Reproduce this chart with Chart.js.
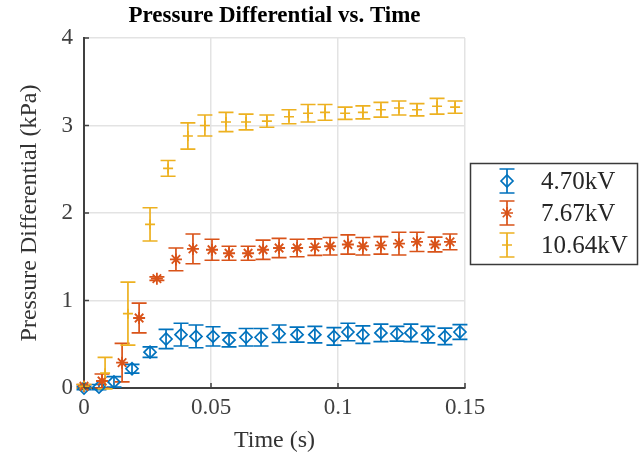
<!DOCTYPE html>
<html lang="en">
<head>
<meta charset="UTF-8">
<title>Pressure Differential vs. Time</title>
<script src="https://cdn.jsdelivr.net/npm/chart.js"></script>
<style>
  body { margin: 0; background: #fff; }
  .wrap { width: 644px; height: 464px; }
</style>
</head>
<body>
<div class="wrap"><canvas id="pressureChart" width="644" height="464"></canvas></div>
<script>
// values
const seriesLabels = ['4.70kV', '7.67kV', '10.64kV'];

const times470 = [0, 0.0059, 0.0118, 0.0189, 0.0260, 0.0323, 0.0382, 0.0441, 0.0508, 0.0571, 0.0638, 0.0697,
  0.0768, 0.0839, 0.0909, 0.0984, 0.1039, 0.1098, 0.1169, 0.1232, 0.1287, 0.1354, 0.1421, 0.1480];
const values470 = [0.0, 0.01, 0.07, 0.22, 0.41, 0.56, 0.61, 0.59, 0.59, 0.55, 0.58, 0.58,
  0.62, 0.61, 0.61, 0.59, 0.64, 0.61, 0.63, 0.62, 0.63, 0.61, 0.59, 0.64];
const errors470 = [0.02, 0.03, 0.06, 0.05, 0.06, 0.11, 0.13, 0.13, 0.11, 0.08, 0.10, 0.10,
  0.10, 0.085, 0.095, 0.10, 0.10, 0.10, 0.10, 0.085, 0.10, 0.095, 0.095, 0.085];

const times767 = [0, 0.0071, 0.0150, 0.0217, 0.0287, 0.0362, 0.0429, 0.0504, 0.0571, 0.0646, 0.0705,
  0.0768, 0.0839, 0.0909, 0.0969, 0.1039, 0.1098, 0.1169, 0.1240, 0.1311, 0.1382, 0.1441];
const values767 = [0.02, 0.08, 0.29, 0.80, 1.25, 1.47, 1.59, 1.58, 1.54, 1.54, 1.58,
  1.60, 1.60, 1.61, 1.62, 1.64, 1.62, 1.63, 1.65, 1.67, 1.64, 1.67];
const errors767 = [0.02, 0.08, 0.22, 0.17, 0.02, 0.13, 0.17, 0.12, 0.08, 0.08, 0.11,
  0.11, 0.10, 0.095, 0.10, 0.11, 0.10, 0.10, 0.13, 0.11, 0.085, 0.09];

const times1064 = [0, 0.0083, 0.0173, 0.0260, 0.0331, 0.0409, 0.0476, 0.0559, 0.0638, 0.0720,
  0.0807, 0.0882, 0.0949, 0.1028, 0.1098, 0.1169, 0.1240, 0.1311, 0.1390, 0.1461];
const values1064 = [0.02, 0.17, 0.85, 1.87, 2.51, 2.88, 3.00, 3.04, 3.04, 3.05,
  3.10, 3.14, 3.15, 3.14, 3.15, 3.18, 3.20, 3.18, 3.22, 3.21];
const errors1064 = [0.02, 0.18, 0.36, 0.19, 0.09, 0.15, 0.12, 0.11, 0.09, 0.07,
  0.08, 0.10, 0.09, 0.07, 0.075, 0.085, 0.08, 0.07, 0.09, 0.07];

const xTicks = [0, 0.05, 0.1, 0.15];
const yTicks = [0, 1, 2, 3, 4];

const chartTitle = 'Pressure Differential vs. Time';
const SERIF = "'Liberation Serif', 'DejaVu Serif', serif";
const AXIS_COLOR = '#404040';

function toPoints(ts, vs, es) {
  return ts.map((t, i) => ({ x: t, y: vs[i], err: es[i] }));
}

// vertical error bars with caps, drawn under the markers
const errorBars = {
  id: 'errorBars',
  beforeDatasetsDraw(chart) {
    const { ctx, scales: { y } } = chart;
    chart.data.datasets.forEach((ds, i) => {
      const meta = chart.getDatasetMeta(i);
      ctx.save();
      ctx.strokeStyle = ds.borderColor;
      ctx.lineWidth = 1.7;
      meta.data.forEach((pt, j) => {
        const d = ds.data[j];
        const top = y.getPixelForValue(d.y + d.err);
        const bot = y.getPixelForValue(d.y - d.err);
        ctx.beginPath();
        ctx.moveTo(pt.x, top); ctx.lineTo(pt.x, bot);
        ctx.moveTo(pt.x - 7.5, top); ctx.lineTo(pt.x + 7.5, top);
        ctx.moveTo(pt.x - 7.5, bot); ctx.lineTo(pt.x + 7.5, bot);
        ctx.stroke();
      });
      ctx.restore();
    });
  }
};

// title over the plot area, inward tick marks, boxed legend on the right
const extras = {
  id: 'extras',
  afterDraw(chart) {
    const { ctx, chartArea: a, scales: { x, y } } = chart;
    ctx.save();
    ctx.fillStyle = '#000';
    ctx.font = 'bold 23px ' + SERIF;
    ctx.textAlign = 'center';
    ctx.textBaseline = 'middle';
    ctx.fillText(chartTitle, (a.left + a.right) / 2, 16);

    ctx.strokeStyle = AXIS_COLOR;
    ctx.lineWidth = 1.5;
    ctx.beginPath();
    xTicks.forEach(v => {
      const px = x.getPixelForValue(v);
      ctx.moveTo(px, a.bottom); ctx.lineTo(px, a.bottom - 5);
    });
    yTicks.forEach(v => {
      const py = y.getPixelForValue(v);
      ctx.moveTo(a.left, py); ctx.lineTo(a.left + 5, py);
    });
    ctx.stroke();

    // legend
    const bx = 470, by = 163, bw = 167, bh = 101;
    ctx.fillStyle = '#fff';
    ctx.fillRect(bx, by, bw, bh);
    ctx.strokeStyle = '#3a3a3a';
    ctx.lineWidth = 1.5;
    ctx.strokeRect(bx + 0.5, by + 0.5, bw, bh);
    const rows = [181, 213, 245];
    chart.data.datasets.forEach((ds, i) => {
      const cy = rows[i], cx = 507;
      ctx.strokeStyle = ds.borderColor;
      ctx.lineWidth = 1.7;
      ctx.beginPath();
      ctx.moveTo(cx, cy - 12); ctx.lineTo(cx, cy + 12);
      ctx.moveTo(cx - 7.5, cy - 12); ctx.lineTo(cx + 7.5, cy - 12);
      ctx.moveTo(cx - 7.5, cy + 12); ctx.lineTo(cx + 7.5, cy + 12);
      ctx.stroke();
      ctx.fillStyle = 'rgba(0,0,0,0)';
      Chart.helpers.drawPoint(ctx, {
        pointStyle: ds.pointStyle, radius: ds.pointRadius, borderWidth: ds.pointBorderWidth, rotation: 0
      }, cx, cy);
      ctx.fillStyle = '#262626';
      ctx.font = '25px ' + SERIF;
      ctx.textAlign = 'left';
      ctx.textBaseline = 'middle';
      ctx.fillText(ds.label, 541, cy + 1);
    });
    ctx.restore();
  }
};

const ctx = document.getElementById('pressureChart').getContext('2d');

new Chart(ctx, {
  type: 'scatter',
  data: {
    datasets: [
      {
        label: seriesLabels[0],
        data: toPoints(times470, values470, errors470),
        borderColor: '#0072BD',
        backgroundColor: 'rgba(0,0,0,0)',
        pointStyle: 'rectRot',
        pointRadius: 6,
        pointBorderWidth: 1.7,
        clip: false,
        order: 3
      },
      {
        label: seriesLabels[1],
        data: toPoints(times767, values767, errors767),
        borderColor: '#D95319',
        backgroundColor: 'rgba(0,0,0,0)',
        pointStyle: 'star',
        pointRadius: 6,
        pointBorderWidth: 1.8,
        clip: false,
        order: 2
      },
      {
        label: seriesLabels[2],
        data: toPoints(times1064, values1064, errors1064),
        borderColor: '#EDB120',
        backgroundColor: 'rgba(0,0,0,0)',
        pointStyle: 'cross',
        pointRadius: 5,
        pointBorderWidth: 1.7,
        clip: false,
        order: 1
      }
    ]
  },
  options: {
    responsive: false,
    animation: false,
    events: [],
    layout: { padding: { top: 38, right: 179, bottom: 0, left: 0 } },
    plugins: {
      legend: { display: false },
      tooltip: { enabled: false },
      title: { display: false }
    },
    scales: {
      x: {
        type: 'linear',
        min: 0,
        max: 0.15,
        afterBuildTicks: s => { s.ticks = xTicks.map(v => ({ value: v })); },
        afterFit: s => { s.height = 76; },
        ticks: {
          color: AXIS_COLOR,
          font: { family: SERIF, size: 23 },
          padding: 6,
          maxRotation: 0,
          callback: v => String(Number(v.toFixed(3)))
        },
        grid: { color: '#e3e3e3', lineWidth: 1.5, drawTicks: false },
        border: { color: AXIS_COLOR, width: 2 },
        title: {
          display: true,
          text: 'Time (s)',
          color: '#333',
          font: { family: SERIF, size: 24 },
          padding: { top: 0, bottom: 9 }
        }
      },
      y: {
        type: 'linear',
        min: 0,
        max: 4,
        afterBuildTicks: s => { s.ticks = yTicks.map(v => ({ value: v })); },
        afterFit: s => { s.width = 84; },
        ticks: {
          color: AXIS_COLOR,
          font: { family: SERIF, size: 23 },
          padding: 11,
          callback: v => String(v)
        },
        grid: { color: '#e3e3e3', lineWidth: 1.5, drawTicks: false },
        border: { color: AXIS_COLOR, width: 2 },
        title: {
          display: true,
          text: 'Pressure Differential (kPa)',
          color: '#333',
          font: { family: SERIF, size: 24 },
          padding: { top: 15, bottom: 0 }
        }
      }
    }
  },
  plugins: [errorBars, extras]
});
</script>
</body>
</html>
